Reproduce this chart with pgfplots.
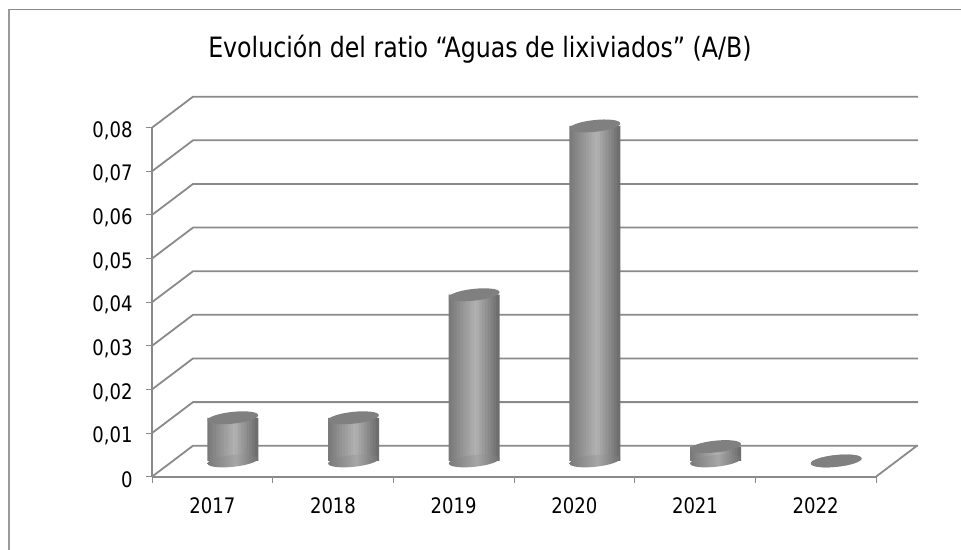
\documentclass[border=0pt]{standalone}
\usepackage{fontspec}
\setmainfont[FakeStretch=0.94]{DejaVu Sans Condensed}
\usepackage{pgfplots}
\usepackage{pgfplotstable}
\pgfplotsset{compat=1.18}
\definecolor{gridc}{HTML}{8A8A8A}
\definecolor{framec}{HTML}{9A9A9A}
\definecolor{topc}{HTML}{808080}
\definecolor{sideL}{HTML}{7A7A7A}
\definecolor{sideM}{HTML}{B2B2B2}
\definecolor{sideR}{HTML}{6E6E6E}
\definecolor{baseM}{HTML}{A6A6A6}
\pgfdeclarehorizontalshading{cyl}{100bp}{color(0bp)=(sideL); color(25bp)=(sideL); color(52.5bp)=(baseM); color(75bp)=(sideR); color(100bp)=(sideR)}
\pgfdeclareplotmark{captop}{%
  \pgfsetfillcolor{topc}%
  \pgfpathellipse{\pgfpointorigin}{\pgfpoint{19pt}{2pt}}{\pgfpoint{-0.46pt}{4.38pt}}%
  \pgfusepathqfill}
\pgfdeclareplotmark{capbase}{%
  \pgfpathellipse{\pgfpointorigin}{\pgfpoint{19pt}{2pt}}{\pgfpoint{-0.46pt}{4.38pt}}%
  \pgfshadepath{cyl}{0}%
  \pgfusepath{discard}}
\pgfplotstableread{
x    v
0.5  0.0099
1.5  0.0099
2.5  0.0381
3.5  0.0768
4.5  0.0033
5.5  0.0000
}\ratios
\begin{document}
\begin{tikzpicture}
\useasboundingbox (0,0) rectangle (720.75pt,-412.5pt);
\fill[white] (0,0) rectangle (720.75pt,-412.5pt);
\draw[framec,line width=1.3pt] (7pt,-412.5pt) -- (7pt,-7pt);
\draw[gridc,line width=0.9pt] (6.4pt,-7pt) -- (720.75pt,-7pt);
\begin{axis}[
  at={(114pt,-357.5pt)},anchor=south west,
  scale only axis,width=543pt,height=261.75pt,
  xmin=0,xmax=6,ymin=0,ymax=0.08,clip=false,
  axis lines=left,
  axis line style={-,gridc,line width=1.35pt},
  every tick/.style={gridc,line width=0.75pt},
  major tick length=4.5pt,minor tick length=4.5pt,
  tick align=outside,
  scaled y ticks=false,
  xtick={0.5,1.5,2.5,3.5,4.5,5.5},
  xticklabels={2017,2018,2019,2020,2021,2022},
  minor xtick={0,1,2,3,4,5,6},
  x tick style={draw=none},
  minor x tick style={gridc,line width=0.75pt,draw=gridc},
  ytick={0,0.01,0.02,0.03,0.04,0.05,0.06,0.07,0.08},
  yticklabels={0,{0,01},{0,02},{0,03},{0,04},{0,05},{0,06},{0,07},{0,08}},
  tick label style={font=\fontsize{16pt}{18pt}\selectfont,black},
  yticklabel style={xshift=-6.5pt,yshift=-2.25pt},
  xticklabel style={yshift=-7.5pt},
  title={Evolución del ratio “Aguas de lixiviados” (A/B)},
  title style={at={(0.5,1)},anchor=base,yshift=47pt,xshift=-25.5pt,font=\fontsize{21pt}{24pt}\selectfont},
]
\pgfplotsinvokeforeach{0.00,0.01,0.02,0.03,0.04,0.05,0.06,0.07,0.08}{
  \pgfmathsetmacro{\vb}{#1+0.0071}
  \edef\temp{\noexpand\addplot[gridc,line width=1.35pt,forget plot] coordinates {(0,#1) (0.34,\vb) (6.35,\vb)};}
  \temp
}
\addplot[gridc,line width=1.35pt,forget plot] coordinates {(6,0) (6.34,0.0071)};
\addplot[only marks,mark=capbase,xshift=15.4pt,yshift=11.8pt,forget plot] table[x=x,y expr=0] {\ratios};
% the cylinder bodies: one narrow bar series per shade, painted left to right
\pgfplotsinvokeforeach{0,...,17}{
  \pgfmathsetmacro{\tt}{#1/17}
  \pgfmathsetmacro{\sh}{-17.8+\tt*35.6}
  \pgfmathparse{\tt<0.55 ? 100*\tt/0.55 : 100*(1-\tt)/0.45}
  \edef\pct{\pgfmathresult}
  \pgfmathparse{\tt<0.55 ? 1 : 0}
  \ifdim\pgfmathresult pt>0.5pt \edef\col{sideM!\pct!sideL}\else \edef\col{sideM!\pct!sideR}\fi
  \edef\temp{\noexpand\addplot[ybar,bar width=2.6pt,bar shift=\sh pt,draw=none,fill=\col,xshift=15.4pt,yshift=11.8pt,forget plot] table[x=x,y=v] {\noexpand\ratios};}
  \temp
}
\addplot[only marks,mark=captop,xshift=15.4pt,yshift=11.8pt,forget plot] table[x=x,y=v] {\ratios};
\end{axis}
\end{tikzpicture}
\end{document}
